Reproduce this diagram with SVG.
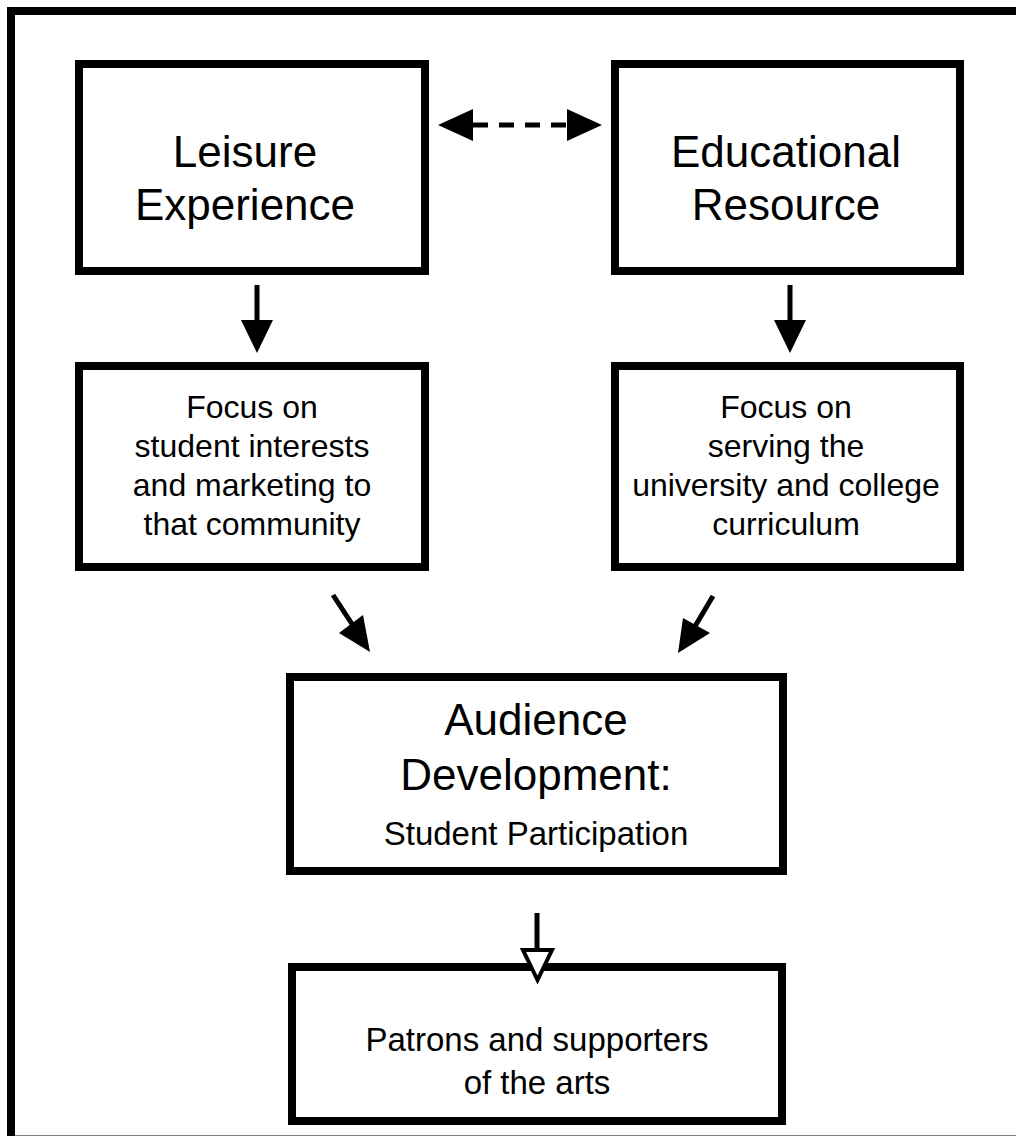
<svg xmlns="http://www.w3.org/2000/svg" width="1016" height="1136" viewBox="0 0 1016 1136">
<style>
.box{fill:#fff;stroke:#000;stroke-width:8}
.big{font-family:"Liberation Sans",Arial,sans-serif;font-size:44px;fill:#000;text-anchor:middle}
.med{font-family:"Liberation Sans",Arial,sans-serif;font-size:32px;fill:#000;text-anchor:middle}
.sub{font-family:"Liberation Sans",Arial,sans-serif;font-size:33px;fill:#000;text-anchor:middle}
.shaft{stroke:#000;stroke-width:5;fill:none}
.head{fill:#000;stroke:none}
</style>
<rect width="1016" height="1136" fill="#fff"/>
<rect id="frame" x="11" y="11" width="1020" height="1128.5" fill="none" stroke="#000" stroke-width="8"/>
<g id="leisure">
<rect class="box" x="79" y="64" width="346" height="207"/>
<text class="big" x="245" y="167">Leisure</text>
<text class="big" x="245" y="220">Experience</text>
</g>
<g id="educational">
<rect class="box" x="615" y="64" width="345" height="207"/>
<text class="big" x="786" y="167">Educational</text>
<text class="big" x="786" y="220">Resource</text>
</g>
<g id="focus-left">
<rect class="box" x="79" y="366" width="346" height="201"/>
<text class="med" x="252" y="418">Focus on</text>
<text class="med" x="252" y="457">student interests</text>
<text class="med" x="252" y="496">and marketing to</text>
<text class="med" x="252" y="535">that community</text>
</g>
<g id="focus-right">
<rect class="box" x="615" y="366" width="345" height="201"/>
<text class="med" x="786" y="418">Focus on</text>
<text class="med" x="786" y="457">serving the</text>
<text class="med" x="786" y="496">university and college</text>
<text class="med" x="786" y="535">curriculum</text>
</g>
<g id="audience">
<rect class="box" x="290" y="677" width="493" height="194"/>
<text class="big" x="536" y="735">Audience</text>
<text class="big" x="536" y="790">Development:</text>
<text class="sub" x="536" y="845">Student Participation</text>
</g>
<g id="patrons">
<rect class="box" x="292" y="967" width="490" height="154"/>
<text class="sub" x="537" y="1051">Patrons and supporters</text>
<text class="sub" x="537" y="1094">of the arts</text>
</g>
<g id="connectors">
<line class="shaft" x1="473" y1="125" x2="567" y2="125" stroke-dasharray="15 11"/>
<polygon class="head" points="438,125 473,109 473,141"/>
<polygon class="head" points="602,125 567,109 567,141"/>
<line class="shaft" x1="257" y1="285" x2="257" y2="322"/>
<polygon class="head" points="241,320 273,320 257,353"/>
<line class="shaft" x1="790" y1="285" x2="790" y2="322"/>
<polygon class="head" points="774,320 806,320 790,353"/>
<line class="shaft" x1="333" y1="595" x2="354" y2="627"/>
<polygon class="head" points="370,652 339,633 363,615"/>
<line class="shaft" x1="713" y1="596" x2="694" y2="628"/>
<polygon class="head" points="678,653 683,618 710,633"/>
<line class="shaft" x1="537" y1="913" x2="537" y2="950"/>
<polygon points="523,950 552,950 537.5,980" fill="#fff" stroke="#000" stroke-width="4" stroke-linejoin="miter"/>
</g>
</svg>
